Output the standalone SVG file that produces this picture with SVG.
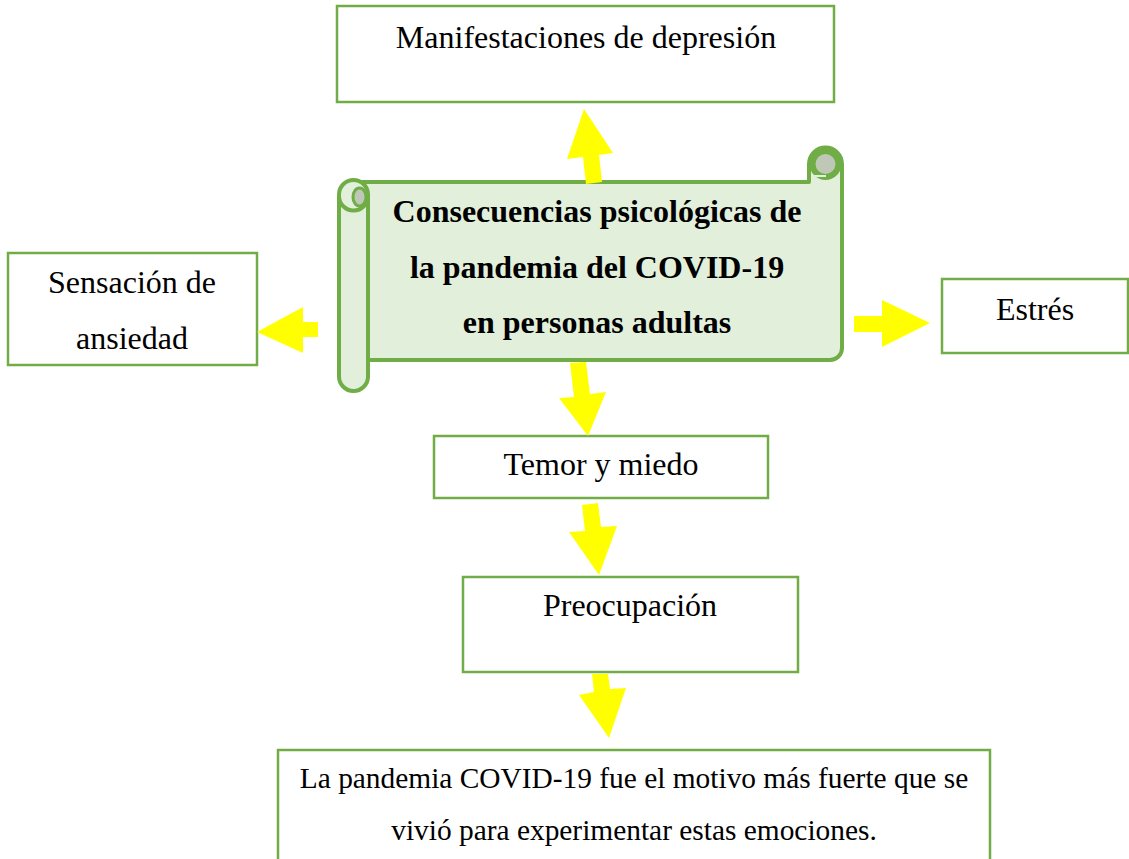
<svg xmlns="http://www.w3.org/2000/svg" width="1129" height="859" viewBox="0 0 1129 859">
<style>
.box{fill:#ffffff;stroke:#70AD47;stroke-width:2.5}
.t{font-family:"Liberation Serif","Times New Roman",serif;font-size:32px;fill:#000;text-anchor:middle}
.ts{font-size:29.4px}
.tb{font-family:"Liberation Serif","Times New Roman",serif;font-size:32px;font-weight:bold;fill:#000;text-anchor:middle}
.scroll{fill:#E2EFDA;stroke:#70AD47;stroke-width:4;stroke-linejoin:round}
.arrow{fill:#FFFF00;stroke:none}
</style>
<rect width="1129" height="859" fill="#ffffff"/>
<g id="manifestaciones">
<rect class="box" x="337" y="6" width="497" height="96"/>
<text class="t" x="586" y="48">Manifestaciones de depresión</text>
</g>
<g id="ansiedad">
<rect class="box" x="8" y="253" width="249" height="112"/>
<text class="t" x="132" y="293">Sensación de</text>
<text class="t" x="132" y="349">ansiedad</text>
</g>
<g id="estres">
<rect class="box" x="942" y="279" width="186" height="74"/>
<text class="t" x="1035" y="320">Estrés</text>
</g>
<g id="temor">
<rect class="box" x="434" y="436" width="334" height="62"/>
<text class="t" x="601" y="475">Temor y miedo</text>
</g>
<g id="preocupacion">
<rect class="box" x="463" y="577" width="335" height="95"/>
<text class="t" x="630" y="616">Preocupación</text>
</g>
<g id="motivo">
<rect class="box" x="278" y="750" width="712" height="115"/>
<text class="t ts" x="634" y="788">La pandemia COVID-19 fue el motivo más fuerte que se</text>
<text class="t ts" x="634" y="840">vivió para experimentar estas emociones.</text>
</g>
<g id="central">
<path class="scroll" d="M 355,182 H 809 V 164 A 16.5 16.5 0 0 1 842 164 V 348 A 12 12 0 0 1 830 360 H 355 Z"/>
<circle cx="825.5" cy="164" r="13" fill="#BFC8B6" stroke="#70AD47" stroke-width="6"/>
<path d="M 813,176 H 826" stroke="#E2EFDA" stroke-width="2" fill="none"/>
<rect class="scroll" x="339" y="180" width="29" height="211" rx="14.5"/>
<path d="M 339,196 A 14.5 14.5 0 0 0 368 196" fill="none" stroke="#70AD47" stroke-width="4"/>
<ellipse cx="359.5" cy="197" rx="6.5" ry="9" fill="#BFC8B6" stroke="#70AD47" stroke-width="3"/>
<text class="tb" x="597" y="222">Consecuencias psicológicas de</text>
<text class="tb" x="597" y="278">la pandemia del COVID-19</text>
<text class="tb" x="597" y="333">en personas adultas</text>
</g>
<g id="connectors">
<polygon class="arrow" points="584,109 613,153 599,155 602,182 586,184 583,157 567,159"/>
<polygon class="arrow" points="257,332 303,307 303,322 318,322 318,337 303,337 303,353"/>
<polygon class="arrow" points="854,316 882,316 882,300 930,323 882,347 882,332 854,332"/>
<polygon class="arrow" points="570,363 586,362 590,394 606,392 588,436 559,398 574,397"/>
<polygon class="arrow" points="582,505 598,503 601,527 617,526 599,575 569,532 585,531"/>
<polygon class="arrow" points="592,674 608,674 610,689 626,688 609,738 579,695 594,692"/>
</g>
</svg>
